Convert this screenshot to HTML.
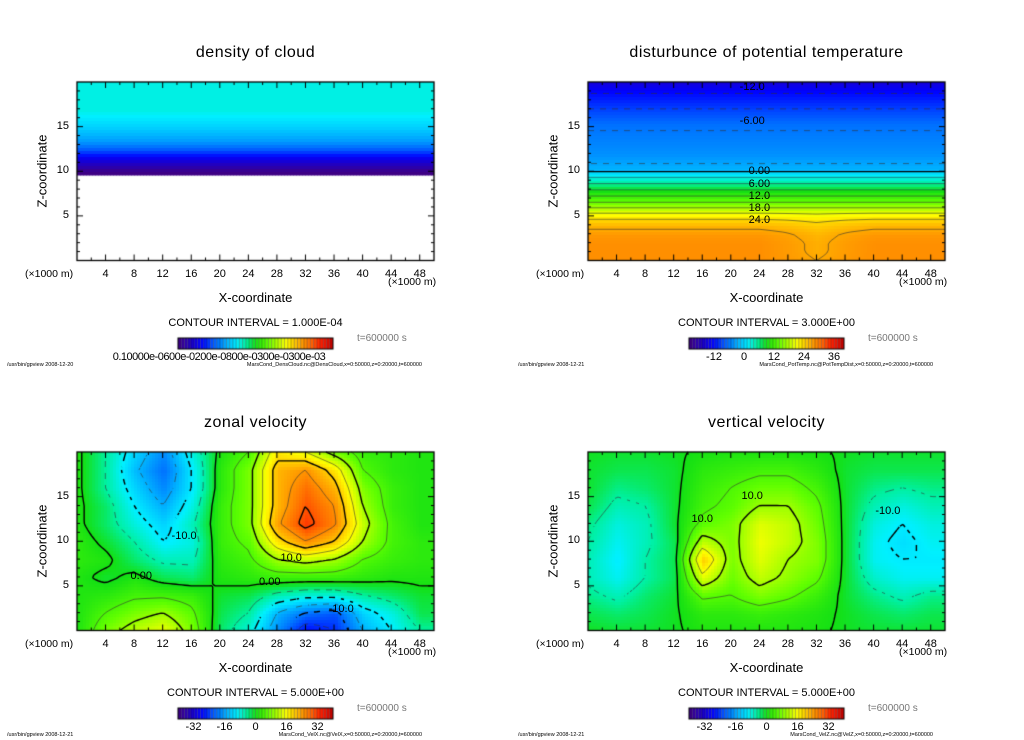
<!DOCTYPE html>
<html><head><meta charset="utf-8">
<style>
body{margin:0;background:#fff;width:1024px;height:740px;overflow:hidden;position:relative;font-family:"Liberation Sans",sans-serif;}
.t{position:absolute;white-space:nowrap;color:#000}
canvas{position:absolute;left:0;top:0}
</style></head><body>
<canvas id="cv" width="1024" height="740"></canvas>
<div id="txt"></div>
<script>
// ---------- data ----------
const xCols = [0,4,8,12,16,20,24,28,32,36,40,44,48,50];
// density of cloud (1e-3 kg/m3), rows by height
const densZ = [20,17,15,13.5,12.5,11.5,10.8,10.2,9.8,9.75,9.7,0];
const densV = [1.25,1.25,1.1,0.95,0.75,0.45,0.3,0.15,0.1,null,null,null];
// potential temperature disturbance
const tempZ = [20,19,17.3,15.4,12,10.1,9.9,9.2,8.5,7.8,7.1,6.4,5.8,5.2,4.5,4,3,2,1,0];
const tempProfile = [-15,-12.5,-9.5,-6.5,-4.5,-2,0.5,3.5,6.5,9.5,12.5,15.5,18.5,21.5,24.5,26,28,28.5,28.5,28.5];
const tempDip = [0,0,0,0,0,0,0,0,0,0,0,0,0,-0.5,-1,-1.5,-2,-2,-2,-1.5]; // at x=32
// zonal velocity, rows z=20..0 step 2, cols xCols
const zonZ = [20,18,16,14,12,10,8,6,4,2,0];
const zonV = [
 [1,-5,-12,-18,-8,1,5,18,15,8,3,2,1,1],
 [1,-5,-14,-20,-10,2,8,22,25,18,5,2,1,1],
 [1,-5,-12,-18,-10,2,8,22,28,22,8,3,1,1],
 [1,-3,-10,-15,-8,3,8,22,30,25,10,3,1,1],
 [1,-3,-8,-12,-6,3,8,24,32,26,12,4,1,1],
 [2,-1,-5,-10,-8,3,6,18,25,20,10,4,2,2],
 [2,1,-3,-6,-6,2,4,10,12,10,5,3,2,2],
 [1,-1,1,-2,-3,1,2,3,3,3,2,1,1,1],
 [1,2,4,4,3,-1,-2,-6,-8,-8,-5,-3,-1,-1],
 [1,5,8,10,6,-2,-5,-15,-20,-22,-12,-8,-2,-2],
 [1,8,12,15,8,-3,-8,-18,-28,-25,-15,-10,-5,-5]];
// vertical velocity
const verZ = [20,18,16,14,12,10,8,6,4,2,0];
const verV = [
 [-0.5,-1,-1,-0.5,0.5,1,1,1,0.5,-0.5,-1,-1,-1,-1],
 [-1,-2,-2,-1,2,3,4,4,2,-1,-2,-2,-2,-2],
 [-1,-4,-3,-1,3,5,7,7,4,-1,-4,-5,-4,-4],
 [-2,-6,-5,-1,4,6,10,10,6,-1,-6,-8,-6,-6],
 [-4,-8,-6,-1,6,8,14,12,7,-1,-8,-10,-8,-8],
 [-5,-9,-6,-2,12,8,15,12,8,-1,-9,-11,-9,-9],
 [-6,-10,-5,-2,20,8,14,10,8,-1,-9,-10,-10,-10],
 [-6,-9,-5,-2,14,7,12,9,6,-1,-7,-9,-9,-9],
 [-4,-6,-3,-1,6,5,8,6,3,-1,-4,-6,-4,-4],
 [-2,-3,-2,-0.5,2,2,3,2,1,-0.5,-2,-3,-2,-2],
 [-0.5,-1,-1,-0.5,1,1,1,1,0.5,-0.5,-1,-1,-1,-1]];
const xTicks = [4,8,12,16,20,24,28,32,36,40,44,48];
const yTicks = [5,10,15];
const tempBarTicks = [-12,0,12,24,36];
const velBarTicks = [-32,-16,0,16,32];

// ---------- helpers ----------
const stops=[[0,[64,0,128]],[0.08,[32,0,192]],[0.15,[0,0,255]],[0.25,[0,112,255]],[0.33,[0,192,255]],[0.38,[0,240,255]],[0.44,[0,240,160]],[0.5,[20,224,20]],[0.58,[96,255,0]],[0.65,[192,255,0]],[0.70,[255,255,0]],[0.78,[255,176,0]],[0.85,[255,110,0]],[0.92,[255,32,0]],[1,[192,0,0]]];
function cmap(t){t=Math.max(0,Math.min(1,t));for(let i=1;i<stops.length;i++){if(t<=stops[i][0]){const a=stops[i-1],b=stops[i],f=(t-a[0])/(b[0]-a[0]);return a[1].map((c,k)=>Math.round(c+(b[1][k]-c)*f));}}return stops[stops.length-1][1];}
function interp1(arr,v){
  for(let i=0;i<arr.length-1;i++){const a=arr[i],b=arr[i+1];if((v-a)*(v-b)<=0){return [i,a===b?0:(v-a)/(b-a)];}}return [arr.length-2,1];}
function sample(grid,zs,x,z){
  const [j,fx]=interp1(xCols,x),[i,fz]=interp1(zs,z);
  const row=r=>{const a=grid(r,j),b=grid(r,j+1);if(a==null||b==null)return null;return a+(b-a)*fx;};
  const a=row(i),b=row(i+1);if(a==null||b==null)return (fz<0.5?a:b);return a+(b-a)*fz+0.0013;}
const cv=document.getElementById('cv'),ctx=cv.getContext('2d');
const txt=document.getElementById('txt');
function T(x,y,s,size,opts){const d=document.createElement('div');d.className='t';d.textContent=s;d.style.left=x+'px';d.style.top=y+'px';d.style.fontSize=size+'px';if(opts){Object.assign(d.style,opts.style||{});}


txt.appendChild(d);return d;}
const PW=357,PH=178.5;
function panel(px,py,title,gridFn,zs,tfun,levels,opts){
  const X=v=>px+v/50*PW, Y=z=>py+PH-z/20*PH;
  const st=3,nx=Math.ceil(PW/st),ny=Math.ceil(PH/st),vals=[];
  for(let r=0;r<=ny;r++){vals.push([]);for(let c=0;c<=nx;c++){const x=Math.min(50,c*st/PW*50),z=Math.max(0,20-r*st/PH*20);vals[r].push(sample(gridFn,zs,x,z));}}
  for(let r=0;r<ny;r++)for(let c=0;c<nx;c++){const v=vals[r][c];if(v==null)continue;const col=cmap(tfun(v));ctx.fillStyle=`rgb(${col})`;ctx.fillRect(px+c*st,py+r*st,Math.min(st+0.5,PW-c*st),Math.min(st+0.5,PH-r*st));}
  if(levels){for(const L of levels){ctx.beginPath();const thick=(Math.abs(L)%10===0);ctx.lineWidth=thick?1.4:0.6;ctx.strokeStyle=thick?'#000':'#333';
    for(let r=0;r<ny;r++)for(let c=0;c<nx;c++){const a=vals[r][c],b=vals[r][c+1],d=vals[r+1][c+1],e=vals[r+1][c];if([a,b,d,e].some(v=>v==null))continue;
      if(L<0&&(Math.floor((c+r)/2)%2===1))continue;
      const pts=[];const ed=(v1,v2,x1,y1,x2,y2)=>{if((v1-L)*(v2-L)<0){const f=(L-v1)/(v2-v1);pts.push([x1+(x2-x1)*f,y1+(y2-y1)*f]);}};
      const x0=px+c*st,y0=py+r*st;ed(a,b,x0,y0,x0+st,y0);ed(b,d,x0+st,y0,x0+st,y0+st);ed(d,e,x0+st,y0+st,x0,y0+st);ed(e,a,x0,y0+st,x0,y0);
      for(let k=0;k+1<pts.length;k+=2){ctx.moveTo(Math.min(pts[k][0],px+PW),Math.min(pts[k][1],py+PH));ctx.lineTo(Math.min(pts[k+1][0],px+PW),Math.min(pts[k+1][1],py+PH));}}
    ctx.stroke();}}
  ctx.strokeStyle='#000';ctx.lineWidth=1.3;ctx.strokeRect(px,py,PW,PH);ctx.lineWidth=1;ctx.beginPath();
  for(let v=2;v<50;v+=2){const L=v%4===0?6:3;ctx.moveTo(X(v),py+PH);ctx.lineTo(X(v),py+PH-L);ctx.moveTo(X(v),py);ctx.lineTo(X(v),py+L);}
  for(let z=1;z<20;z++){const L=z%5===0?6:3;ctx.moveTo(px,Y(z));ctx.lineTo(px+L,Y(z));ctx.moveTo(px+PW,Y(z));ctx.lineTo(px+PW-L,Y(z));}
  ctx.stroke();
  T(px+PW/2,py-38,title,16,{name:'panel-title',style:{transform:'translateX(-50%)',letterSpacing:'0.5px'}});
  xTicks.forEach(v=>T(X(v),py+PH+7,String(v),11,{name:'x-tick-label',style:{transform:'translateX(-50%)'}}));
  yTicks.forEach(v=>T(px-8,Y(v)-7,String(v),11,{name:'y-tick-label',style:{transform:'translateX(-100%)'}}));
  T(px-52,py+PH+7,'(×1000 m)',10.5,{name:'x-unit-left'});
  T(px+PW-46,py+PH+15,'(×1000 m)',10.5,{name:'x-unit-right'});
  T(px+PW/2,py+PH+29,'X-coordinate',13,{name:'x-axis-title',style:{transform:'translateX(-50%)'}});
  T(px-35,py+PH/2,'Z-coordinate',13,{name:'y-axis-title',style:{transform:'translate(-50%,-50%) rotate(-90deg)'}});
  T(px+PW/2,py+PH+56,'CONTOUR INTERVAL = '+opts.ci,11,{name:'contour-interval',style:{transform:'translateX(-50%)'}});
  T(px+280,py+PH+72,'t=600000 s',10,{name:'time-label',style:{color:'#777'}});
  const bx=px+101,by=py+PH+77.5,bw=155,bh=11,n=48;
  for(let k=0;k<n;k++){const col=cmap((k+0.5)/n);ctx.fillStyle=`rgb(${col})`;ctx.fillRect(bx+k*bw/n,by,bw/n,bh);}
  ctx.strokeStyle='rgba(0,0,0,0.5)';ctx.lineWidth=0.6;ctx.beginPath();for(let k=1;k<n;k++){ctx.moveTo(bx+k*bw/n,by);ctx.lineTo(bx+k*bw/n,by+bh);}ctx.stroke();
  ctx.strokeStyle='#000';ctx.lineWidth=1;ctx.strokeRect(bx,by,bw,bh);
  if(opts.barTicks)opts.barTicks.forEach(v=>T(bx+(v-opts.bmin)/(opts.bmax-opts.bmin)*bw,by+13,String(v),11,{name:'colorbar-tick',style:{transform:'translateX(-50%)'}}));
  if(opts.barText)T(bx+41,by+13,opts.barText,11,{name:'colorbar-labels',style:{transform:'translateX(-50%)',letterSpacing:'-0.5px'}});
  T(px-70,py+PH+101,'/usr/bin/gpview   '+opts.date,5.5,{name:'footer-left'});
  T(px+PW-12,py+PH+101,opts.file,5.5,{name:'footer-right',style:{transform:'translateX(-100%)'}});
  return {X,Y};
}
const dens=(r,j)=>densV[r]==null?null:densV[r];
panel(77,82,'density of cloud',dens,densZ,v=>(v-0.1)/2.9,null,{ci:'1.000E-04',barText:'0.10000e-0600e-0200e-0800e-0300e-0300e-03',date:'2008-12-20',file:'MarsCond_DensCloud.nc@DensCloud,x=0:50000,z=0:20000,t=600000'});
const temp=(r,j)=>tempProfile[r]+(xCols[j]===32?tempDip[r]:(xCols[j]===28||xCols[j]===36?tempDip[r]*0.4:0));
const tLev=[];for(let L=-12;L<=27;L+=3)tLev.push(L);
const p2=panel(588,82,'disturbunce of potential temperature',temp,tempZ,v=>(v+22)/62,tLev,{ci:'3.000E+00',barTicks:tempBarTicks,bmin:-22,bmax:40,date:'2008-12-21',file:'MarsCond_PotTemp.nc@PotTempDist,x=0:50000,z=0:20000,t=600000'});
const zon=(r,j)=>zonV[r][j];
const vLev=[-25,-20,-15,-10,-5,0,5,10,15,20,25,30];
const p3=panel(77,452,'zonal velocity',zon,zonZ,v=>(v+40)/80,vLev,{ci:'5.000E+00',barTicks:velBarTicks,bmin:-40,bmax:40,date:'2008-12-21',file:'MarsCond_VelX.nc@VelX,x=0:50000,z=0:20000,t=600000'});
const ver=(r,j)=>verV[r][j];
const p4=panel(588,452,'vertical velocity',ver,verZ,v=>(v+40)/80,vLev,{ci:'5.000E+00',barTicks:velBarTicks,bmin:-40,bmax:40,date:'2008-12-21',file:'MarsCond_VelZ.nc@VelZ,x=0:50000,z=0:20000,t=600000'});
[['-12.0',23,19.3],['-6.00',23,15.5],['0.00',24,9.9],['6.00',24,8.5],['12.0',24,7.1],['18.0',24,5.8],['24.0',24,4.4]].forEach(a=>T(p2.X(a[1]),p2.Y(a[2])-7,a[0],11,{name:'contour-label',style:{transform:'translateX(-50%)'}}));
[['-10.0',15,10.5],['0.00',9,6],['0.00',27,5.3],['10.0',30,8],['-10.0',37,2.3]].forEach(a=>T(p3.X(a[1]),p3.Y(a[2])-7,a[0],11,{name:'contour-label',style:{transform:'translateX(-50%)'}}));
[['10.0',16,12.4],['10.0',23,15],['-10.0',42,13.3]].forEach(a=>T(p4.X(a[1]),p4.Y(a[2])-7,a[0],11,{name:'contour-label',style:{transform:'translateX(-50%)'}}));
</script>
</body></html>
